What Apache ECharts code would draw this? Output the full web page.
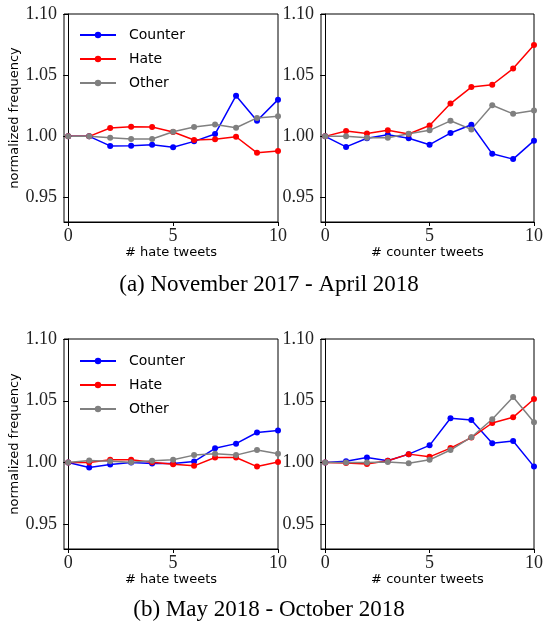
<!DOCTYPE html>
<html>
<head>
<meta charset="utf-8">
<script src="https://cdn.jsdelivr.net/npm/echarts@6/dist/echarts.min.js"></script>
<style>
  html, body { margin: 0; padding: 0; background: #fff; }
  #chart { width: 543px; height: 624px; }
</style>
</head>
<body>
<div id="chart"></div>
<script>
// x positions (number of previous tweets)
const steps = [0, 1, 2, 3, 4, 5, 6, 7, 8, 9, 10]
const yTicks = [0.95, 1.00, 1.05, 1.10]
const xTicks = [0, 5, 10]
const names = ['Counter', 'Hate', 'Other']
const colors = ['#0000ff', '#ff0000', '#808080']

// (a) November 2017 - April 2018, vs # hate tweets
const aHateCounter = [1.000, 1.000, 0.9922, 0.9924, 0.9932, 0.9911, 0.9959, 1.0019, 1.0332, 1.0127, 1.0300]
const aHateHate    = [1.000, 1.000, 1.0068, 1.0078, 1.0076, 1.0035, 0.9970, 0.9976, 0.9997, 0.9865, 0.9880]
const aHateOther   = [1.000, 1.000, 0.9989, 0.9978, 0.9978, 1.0038, 1.0076, 1.0097, 1.0070, 1.0151, 1.0165]
// (a) vs # counter tweets
const aCntCounter  = [1.000, 0.9914, 0.9984, 1.0014, 0.9984, 0.9932, 1.0027, 1.0095, 0.9857, 0.9814, 0.9965]
const aCntHate     = [1.000, 1.0043, 1.0024, 1.0049, 1.0019, 1.0089, 1.0268, 1.0403, 1.0422, 1.0554, 1.0746]
const aCntOther    = [1.000, 1.000, 0.9989, 0.9989, 1.0022, 1.0049, 1.0127, 1.0057, 1.0254, 1.0184, 1.0211]

// (b) May 2018 - October 2018, vs # hate tweets
const bHateCounter = [1.000, 0.9959, 0.9984, 1.000, 0.9992, 0.9992, 1.0008, 1.0115, 1.0153, 1.0243, 1.0260]
const bHateHate    = [1.000, 1.000, 1.0022, 1.0022, 1.0003, 0.9986, 0.9973, 1.0041, 1.0041, 0.9967, 1.0005]
const bHateOther   = [1.000, 1.0016, 1.0011, 1.0003, 1.0014, 1.0022, 1.0060, 1.0071, 1.0060, 1.0101, 1.0071]
// (b) vs # counter tweets
const bCntCounter  = [1.000, 1.0011, 1.0041, 1.0014, 1.0068, 1.0139, 1.0358, 1.0344, 1.0156, 1.0175, 0.9967]
const bCntHate     = [1.000, 0.9997, 0.9989, 1.0014, 1.0068, 1.0046, 1.0117, 1.0202, 1.0320, 1.0366, 1.0514]
const bCntOther    = [1.000, 1.000, 1.000, 1.0005, 0.9995, 1.0022, 1.0101, 1.0205, 1.0350, 1.0530, 1.0326]

const panels = [
    { left: 64, top: 14, width: 214, height: 208, xName: '# hate tweets', yName: 'normalized frequency', lines: [aHateCounter, aHateHate, aHateOther] },
    { left: 321, top: 14, width: 213, height: 208, xName: '# counter tweets', yName: '', lines: [aCntCounter, aCntHate, aCntOther] },
    { left: 64, top: 339, width: 214, height: 210, xName: '# hate tweets', yName: 'normalized frequency', lines: [bHateCounter, bHateHate, bHateOther] },
    { left: 321, top: 339, width: 213, height: 210, xName: '# counter tweets', yName: '', lines: [bCntCounter, bCntHate, bCntOther] }
]

const serif = 'Liberation Serif'
const sans = 'DejaVu Sans'

function makeLegend(top){
    return {
        orient: 'vertical',
        left: 79,
        top: top,
        padding: 0,
        itemWidth: 36,
        itemHeight: 8,
        itemGap: 10,
        data: names,
        textStyle: { fontFamily: sans, fontSize: 14, color: '#000', padding: [0, 0, 0, 8] }
    }
}

var grids = [], xAxes = [], yAxes = [], series = []
panels.forEach(function(p, i){
    grids.push({
        left: p.left, top: p.top, width: p.width, height: p.height,
        show: true, borderColor: '#000', borderWidth: 1, backgroundColor: 'transparent',
        outerBoundsMode: 'none'
    })
    xAxes.push({
        gridIndex: i, type: 'value', min: -0.2, max: 10,
        name: p.xName, nameLocation: 'middle', nameGap: 21,
        nameTextStyle: { fontFamily: sans, fontSize: 13, color: '#000' },
        axisLine: { show: true, lineStyle: { color: '#000', width: 1 } },
        axisTick: { show: true, length: 4, customValues: xTicks, lineStyle: { color: '#000' } },
        axisLabel: { customValues: xTicks, margin: 5, fontFamily: serif, fontSize: 18, color: '#222' },
        splitLine: { show: false }
    })
    yAxes.push({
        gridIndex: i, type: 'value', min: 0.93, max: 1.10,
        name: p.yName, nameLocation: 'middle', nameGap: 40,
        nameTextStyle: { fontFamily: sans, fontSize: 13, color: '#000' },
        axisLine: { show: true, lineStyle: { color: '#000', width: 1 } },
        axisTick: { show: true, length: 5, customValues: yTicks, lineStyle: { color: '#000' } },
        axisLabel: { customValues: yTicks, margin: 7, fontFamily: serif, fontSize: 18, color: '#222',
            formatter: function(v){ return v.toFixed(2) } },
        splitLine: { show: false }
    })
    p.lines.forEach(function(vals, k){
        series.push({
            name: names[k], type: 'line', xAxisIndex: i, yAxisIndex: i,
            data: steps.map(function(x, j){ return [x, vals[j]] }),
            symbol: 'circle', symbolSize: 6, showSymbol: true,
            color: colors[k],
            lineStyle: { color: colors[k], width: 1.5 },
            itemStyle: { color: colors[k] },
            clip: true
        })
    })
})

var myChart = echarts.init(document.getElementById('chart'))
var option = {
    animation: false,
    backgroundColor: '#fff',
    title: [
        { text: '(a) November 2017 - April 2018', left: 269, top: 273, padding: 0, textAlign: 'center',
          textStyle: { fontFamily: serif, fontSize: 23, fontWeight: 'normal', color: '#000' } },
        { text: '(b) May 2018 - October 2018', left: 269, top: 598, padding: 0, textAlign: 'center',
          textStyle: { fontFamily: serif, fontSize: 23, fontWeight: 'normal', color: '#000' } }
    ],
    legend: [makeLegend(28), makeLegend(354)],
    grid: grids,
    xAxis: xAxes,
    yAxis: yAxes,
    series: series
}
myChart.setOption(option)
</script>
</body>
</html>
